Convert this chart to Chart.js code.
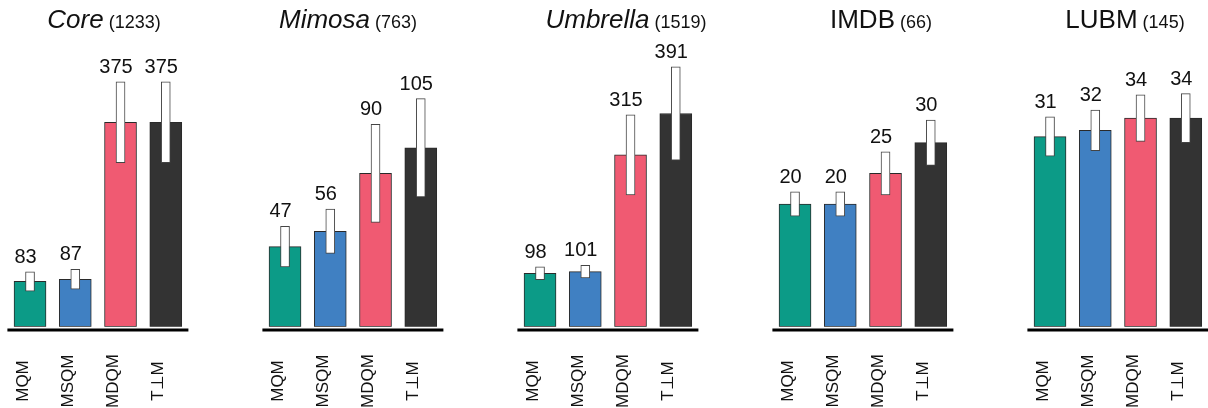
<!DOCTYPE html>
<html lang="en">
<head>
  <meta charset="UTF-8">
  <title>Query counts per method</title>
  <script src="https://cdn.jsdelivr.net/npm/chart.js"></script>
  <style>
    body {
      margin: 0;
      width: 1208px;
      height: 408px;
      overflow: hidden;
      position: relative;
      background: #fff;
      font-family: "Liberation Sans", Arial, sans-serif;
    }
    .panel {
      position: absolute;
      top: 0;
      width: 190px;
      height: 408px;
    }
    .ttl {
      position: absolute;
      top: 2px;
      white-space: nowrap;
      transform: translateX(-50%);
      font-size: 26px;
      line-height: 34px;
      color: #111;
    }
    .ttl .n {
      font-size: 18px;
      font-style: normal;
    }
  </style>
</head>
<body>

<script>
  const methods = ["MQM", "MSQM", "MDQM", "T\u22A5M"];
  const datasetNames = ["Core", "Mimosa", "Umbrella", "IMDB", "LUBM"];
  const datasetSizes = [1233, 763, 1519, 66, 145];
  const italicNames = [true, true, true, false, false];

  const coreValues = [83, 87, 375, 375];
  const mimosaValues = [47, 56, 90, 105];
  const umbrellaValues = [98, 101, 315, 391];
  const imdbValues = [20, 20, 25, 30];
  const lubmValues = [31, 32, 34, 34];

  // half height of the white spread bars
  const coreSpread = [17.7, 18.1, 74, 74];
  const mimosaSpread = [11.9, 13.0, 28.8, 28.9];
  const umbrellaSpread = [11.6, 11.7, 73.4, 85.6];
  const imdbSpread = [2.0, 2.0, 3.5, 3.7];
  const lubmSpread = [3.2, 3.3, 3.8, 4.0];

  const yMax = [562.5, 180, 562.5, 50, 50];

  const allValues = [coreValues, mimosaValues, umbrellaValues, imdbValues, lubmValues];
  const allSpread = [coreSpread, mimosaSpread, umbrellaSpread, imdbSpread, lubmSpread];

  const colors = ["#0c9b87", "#4080c2", "#f05a72", "#333333"];

  // layout
  const panelStep = 255;
  const titleCenters = [104, 348, 626, 881, 1125];

  const panelMarks = {
    id: "panelMarks",
    afterDatasetsDraw(chart) {
      const ctx = chart.ctx;
      const area = chart.chartArea;
      const x = chart.scales.x;
      const y = chart.scales.y;
      const vals = chart.data.datasets[1].data;
      const spread = chart.data.datasets[0].data;

      ctx.save();
      // thick base line
      ctx.strokeStyle = "#000";
      ctx.lineWidth = 3;
      ctx.beginPath();
      ctx.moveTo(area.left, area.bottom + 3.3);
      ctx.lineTo(area.right, area.bottom + 3.3);
      ctx.stroke();

      ctx.fillStyle = "#111";
      ctx.font = '20px "Liberation Sans", Arial, sans-serif';
      ctx.textAlign = "center";
      ctx.textBaseline = "alphabetic";
      vals.forEach((v, i) => {
        const px = x.getPixelForValue(i);
        const top = y.getPixelForValue(spread[i][1]);
        ctx.fillText(String(v), px - 4.5, top - 9);
      });

      ctx.font = '17px "Liberation Sans", Arial, sans-serif';
      ctx.textBaseline = "middle";
      chart.data.labels.forEach((lab, i) => {
        const px = x.getPixelForValue(i);
        ctx.save();
        ctx.translate(px - 7, 381);
        ctx.rotate(-Math.PI / 2);
        ctx.fillText(lab, 0, 0);
        ctx.restore();
      });
      ctx.restore();
    }
  };

  datasetNames.forEach((name, p) => {
    const wrap = document.createElement("div");
    wrap.className = "panel";
    wrap.style.left = (panelStep * p) + "px";
    const canvas = document.createElement("canvas");
    canvas.width = 190;
    canvas.height = 408;
    wrap.appendChild(canvas);
    document.body.appendChild(wrap);

    const ttl = document.createElement("div");
    ttl.className = "ttl";
    ttl.style.left = titleCenters[p] + "px";
    const nm = document.createElement("span");
    nm.textContent = name;
    if (italicNames[p]) nm.style.fontStyle = "italic";
    const cnt = document.createElement("span");
    cnt.className = "n";
    cnt.textContent = " (" + datasetSizes[p] + ")";
    ttl.appendChild(nm);
    ttl.appendChild(cnt);
    document.body.appendChild(ttl);

    const values = allValues[p];
    const spread = allSpread[p];

    new Chart(canvas, {
      type: "bar",
      data: {
        labels: methods,
        datasets: [
          {
            data: values.map((v, i) => [v - spread[i], v + spread[i]]),
            backgroundColor: "#ffffff",
            borderColor: "#444",
            borderWidth: 1,
            borderSkipped: false,
            barThickness: 9,
            grouped: false,
            order: 0
          },
          {
            data: values,
            backgroundColor: colors,
            borderColor: "#2a2a2a",
            borderWidth: 1,
            borderSkipped: false,
            barThickness: 32,
            grouped: false,
            order: 1
          }
        ]
      },
      options: {
        responsive: false,
        animation: false,
        devicePixelRatio: 1,
        layout: { padding: { left: 7.4, right: 1.6, top: 20, bottom: 81.3 } },
        plugins: { legend: { display: false }, tooltip: { enabled: false } },
        scales: {
          x: { display: false },
          y: { display: false, min: 0, max: yMax[p] }
        }
      },
      plugins: [panelMarks]
    });
  });
</script>

</body>
</html>
